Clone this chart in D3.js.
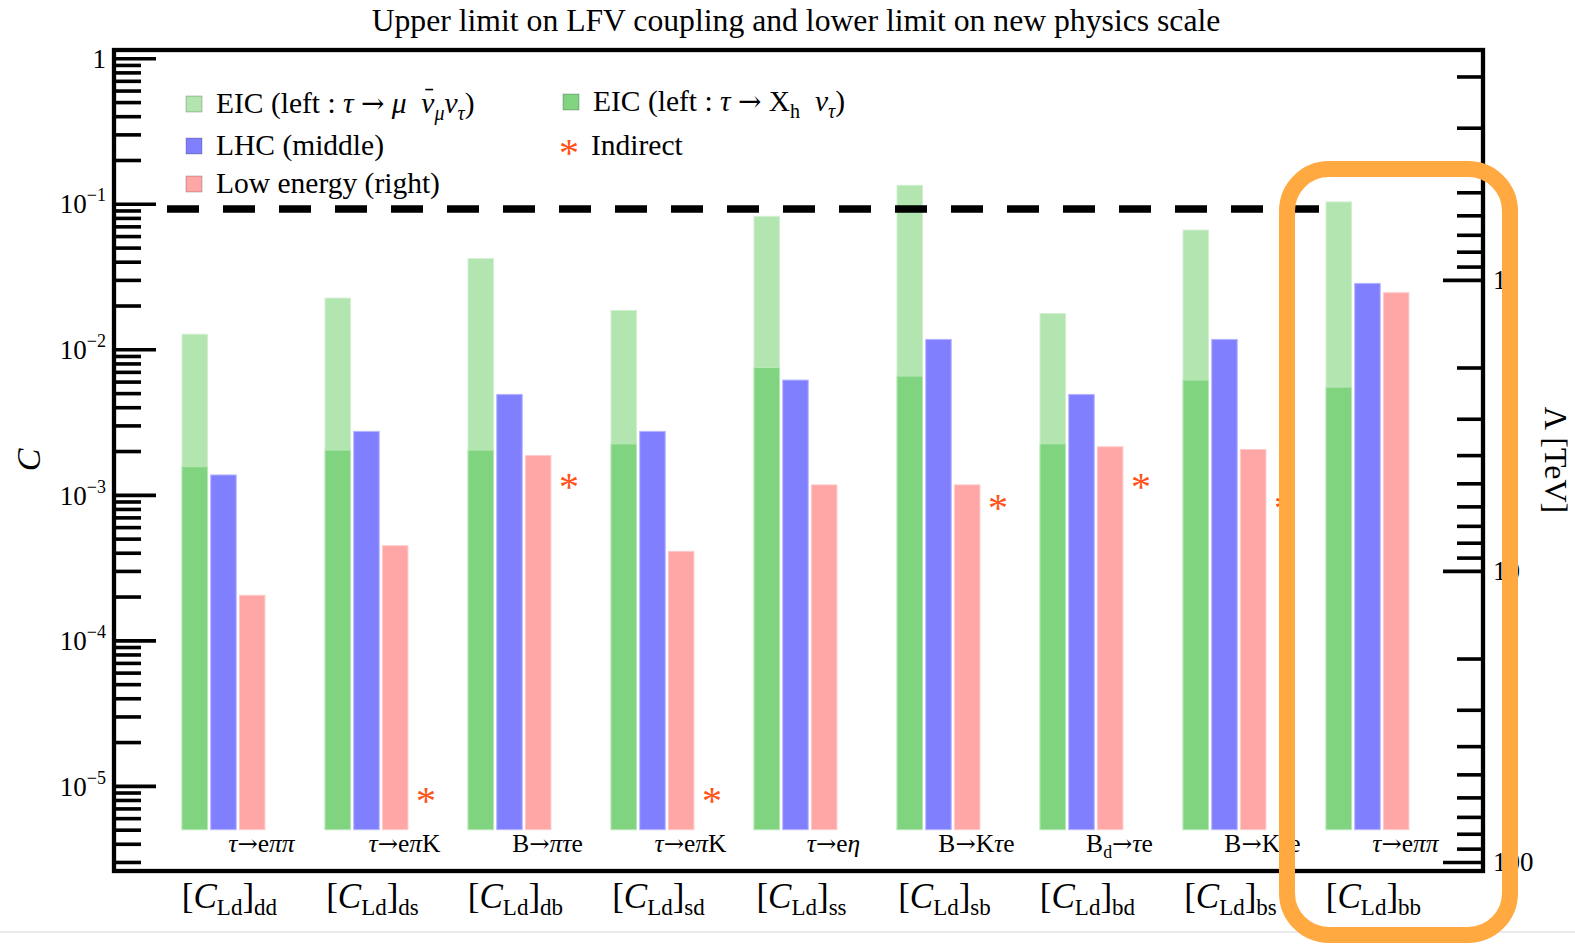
<!DOCTYPE html>
<html>
<head>
<meta charset="utf-8">
<script src="https://cdn.jsdelivr.net/npm/d3@7"></script>
<style>
  body { margin: 0; background: #fff; }
  svg { display: block; }
  text { font-family: "Liberation Serif", "Times New Roman", serif; fill: #000; }
</style>
</head>
<body>
<svg id="chart" width="1575" height="951"></svg>
<script>
// ---- data -------------------------------------------------------------
const couplings   = ["dd", "ds", "db", "sd", "ss", "sb", "bd", "bs", "bb"];
const processes   = ["τ→eππ", "τ→eπK", "B→πτe", "τ→eπK", "τ→eη", "B→Kτe", "B_{d}→τe", "B→Kτe", "τ→eππ"];
// upper limits on C
const eicLeptonic = [1.27e-2, 2.25e-2, 4.2e-2, 1.85e-2, 8.2e-2, 1.34e-1, 1.76e-2, 6.6e-2, 1.03e-1];
const eicHadronic = [1.56e-3, 2.03e-3, 2.03e-3, 2.24e-3, 7.5e-3, 6.55e-3, 2.24e-3, 6.15e-3, 5.5e-3];
const lhc         = [1.37e-3, 2.73e-3, 4.9e-3, 2.73e-3, 6.15e-3, 1.17e-2, 4.9e-3, 1.17e-2, 2.84e-2];
const lowEnergy   = [2.04e-4, 4.47e-4, 1.86e-3, 4.09e-4, 1.17e-3, 1.17e-3, 2.14e-3, 2.05e-3, 2.45e-2];
const indirect    = [null, 8.8e-6, 1.26e-3, 8.8e-6, null, 9.0e-4, 1.26e-3, 9.0e-4, null];
const leftMajorTicks  = [1e-5, 1e-4, 1e-3, 1e-2, 1e-1, 1];
const rightMajorTicks = [1, 10, 100];
const rightMinorTicks = [0.2, 0.3, 0.5, 0.6, 0.7, 0.8, 0.9, 2, 3, 4, 5, 6, 7, 8, 9, 20, 30, 40, 50, 60, 70, 80, 90];
const referenceC = 0.092;     // dashed reference level
const barBaseC   = 5e-6;      // bars start here
const lambdaNorm = 0.03;      // C = lambdaNorm / Λ²  (Λ in TeV)
const cDomain    = [2.6e-6, 1.14];

// ---- layout -----------------------------------------------------------
const W = 1575, H = 951;
const frame = { left: 114, right: 1483, top: 50, bottom: 871 };
const colors = {
  eicLeptonic: "#b3e5b0",
  eicHadronic: "#80d480",
  lhc: "#8080ff",
  low: "#ffa6a6",
  star: "#ff5217",
  box: "#ffa940"
};
const FONT = 29.5;

const svg = d3.select("#chart");

const y = d3.scaleLog().domain(cDomain).range([frame.bottom, frame.top]);
const lam = c => Math.sqrt(lambdaNorm / c);
const yL = d3.scaleLog().domain([lam(cDomain[0]), lam(cDomain[1])]).range([frame.bottom, frame.top]);

const x = d3.scaleBand().domain(couplings)
  .range([182, 182 + 143 * (couplings.length - 0.42)])
  .paddingInner(0.42).paddingOuter(0);
const xs = d3.scaleBand().domain(["eic", "lhc", "low"])
  .range([0, x.bandwidth()]).paddingInner(0.11);

// rich text helper: "_{...}" makes a subscript, Greek letters are italic,
// a combining macron (U+0304) is drawn as a bar over the preceding letter
function rich(sel, src, size, subScale = 0.68, subDrop = 0.26, arrowScale = 1) {
  const segs = [];
  let i = 0;
  while (i < src.length) {
    let sub = false, chunk;
    if (src[i] === "_" && src[i + 1] === "{") {
      const j = src.indexOf("}", i);
      chunk = src.slice(i + 2, j); sub = true; i = j + 1;
    } else {
      let j = i;
      while (j < src.length && !(src[j] === "_" && src[j + 1] === "{")) j++;
      chunk = src.slice(i, j); i = j;
    }
    (chunk.match(/→|[\u0370-\u03FF]\u0304?|[^\u0370-\u03FF→]+/g) || []).forEach(t =>
      segs.push({
        t: t.replace("\u0304", ""), sub,
        it: /[\u0370-\u03FF]/.test(t[0]) && t[0] !== "Λ",
        arrow: t === "→",
        bar: t.includes("\u0304")
      }));
  }
  let shift = 0;
  const bars = [];
  segs.forEach(s => {
    const ts = sel.append("tspan").text(s.t);
    if (s.it) ts.attr("font-style", "italic");
    if (s.arrow) ts.attr("font-family", "DejaVu Serif").attr("font-size", size * arrowScale);
    if (s.sub) ts.attr("font-size", size * subScale);
    const want = s.sub ? size * subDrop : 0;
    if (want !== shift) ts.attr("dy", want - shift);
    shift = want;
    if (s.bar) bars.push(ts.node());
  });
  // overbars
  const parent = d3.select(sel.node().parentNode);
  bars.forEach(node => {
    const b = node.getExtentOfChar(0);
    parent.append("line")
      .attr("x1", b.x + b.width * 0.3).attr("x2", b.x + b.width * 0.9)
      .attr("y1", b.y + b.height * 0.08).attr("y2", b.y + b.height * 0.08)
      .attr("stroke", "#000").attr("stroke-width", 1.6);
  });
  return sel;
}

// ---- title ------------------------------------------------------------
svg.append("text").attr("x", 796).attr("y", 31).attr("text-anchor", "middle")
  .attr("font-size", 31.7).text("Upper limit on LFV coupling and lower limit on new physics scale");

// faint rule along the bottom
svg.append("line").attr("x1", 0).attr("x2", W).attr("y1", 932).attr("y2", 932)
  .attr("stroke", "#e4e4e4").attr("stroke-width", 1.5);

// ---- bars -------------------------------------------------------------
const rows = couplings.map((c, i) => ({
  c, i, eicL: eicLeptonic[i], eicH: eicHadronic[i], lhc: lhc[i], low: lowEnergy[i], ind: indirect[i]
}));
const gBars = svg.append("g");
const group = gBars.selectAll("g.grp").data(rows).join("g").attr("class", "grp")
  .attr("transform", d => `translate(${x(d.c)},0)`);

function bar(sel, key, val, fill, edge) {
  sel.append("rect")
    .attr("x", d => xs(key)).attr("width", xs.bandwidth())
    .attr("y", d => y(val(d))).attr("height", d => y(barBaseC) - y(val(d)))
    .attr("fill", fill).attr("stroke", edge).attr("stroke-width", 1);
}
bar(group, "eic", d => d.eicL, colors.eicLeptonic, "#d2efd0");
bar(group, "eic", d => d.eicH, colors.eicHadronic, "#b8e8b7");
bar(group, "lhc", d => d.lhc, colors.lhc, "#b6b6ff");
bar(group, "low", d => d.low, colors.low, "#ffcaca");

// process labels under each group
group.append("text").attr("x", x.bandwidth() / 2 + 38).attr("y", 852)
  .attr("text-anchor", "middle").attr("font-size", 25.5)
  .each(function (d) { rich(d3.select(this), processes[d.i], 25.5, 0.7, 0.22, 0.95); });

// indirect-bound markers
function star(sel, cx, cy, size) {
  sel.append("text").attr("x", cx).attr("y", cy + size * 0.5)
    .attr("text-anchor", "middle").attr("font-size", size)
    .style("fill", colors.star).text("*");
}
rows.filter(d => d.ind != null).forEach(d => {
  star(gBars, x(d.c) + 101, y(d.ind), 40);
});

// reference level
svg.append("line")
  .attr("x1", x(couplings[0]) - 15).attr("x2", x(couplings[couplings.length - 1]) - 7)
  .attr("y1", y(referenceC)).attr("y2", y(referenceC))
  .attr("stroke", "#000").attr("stroke-width", 7.5).attr("stroke-dasharray", "32,24");

// ---- axes -------------------------------------------------------------
const leftMinor = [];
for (let e = -6; e <= 0; e++) for (let m = 2; m <= 9; m++) {
  const v = m * Math.pow(10, e);
  if (v > cDomain[0] && v < cDomain[1]) leftMinor.push(v);
}
const axStyle = g => {
  g.select(".domain").remove();
  g.selectAll(".tick line").attr("stroke", "#000").attr("stroke-width", 3.6);
};

svg.append("g").attr("transform", `translate(${frame.left},0)`)
  .call(d3.axisLeft(y).tickValues(leftMinor).tickSize(-27).tickFormat(""))
  .call(axStyle);
const leftAx = svg.append("g").attr("transform", `translate(${frame.left},0)`)
  .call(d3.axisLeft(y).tickValues(leftMajorTicks).tickSize(-42).tickPadding(8).tickFormat(""))
  .call(axStyle);
leftAx.selectAll(".tick text").each(function (v) {
  const t = d3.select(this).attr("font-size", 27).attr("font-family", null).attr("fill", null)
    .attr("dy", "0.34em").attr("x", -8);
  t.text(null);
  const e = Math.round(Math.log10(v));
  if (e === 0) { t.append("tspan").text("1"); return; }
  t.append("tspan").text("10");
  t.append("tspan").attr("font-size", 18).attr("dy", -12).text("−" + Math.abs(e));
});

svg.append("g").attr("transform", `translate(${frame.right},0)`)
  .call(d3.axisRight(yL).tickValues(rightMinorTicks).tickSize(-26).tickFormat(""))
  .call(axStyle);
const rightAx = svg.append("g").attr("transform", `translate(${frame.right},0)`)
  .call(d3.axisRight(yL).tickValues(rightMajorTicks).tickSize(-40).tickPadding(10).tickFormat(d3.format("d")))
  .call(axStyle);
rightAx.selectAll(".tick text").attr("font-size", 27).attr("font-family", null).attr("fill", null)
  .attr("x", 10);

// frame
svg.append("rect").attr("x", frame.left).attr("y", frame.top)
  .attr("width", frame.right - frame.left).attr("height", frame.bottom - frame.top)
  .attr("fill", "none").attr("stroke", "#000").attr("stroke-width", 4.3);

// axis titles
svg.append("text").attr("transform", "translate(40,460) rotate(-90)")
  .attr("text-anchor", "middle").attr("font-size", 34).attr("font-style", "italic").text("C");
svg.append("text").attr("transform", "translate(1545,460) rotate(90)")
  .attr("text-anchor", "middle").attr("font-size", 32).text("Λ [TeV]");

// coupling labels
svg.selectAll("text.cat").data(couplings).join("text").attr("class", "cat")
  .attr("x", c => x(c) + x.bandwidth() / 2 + 6).attr("y", 908)
  .attr("text-anchor", "middle").attr("font-size", 35)
  .each(function (c) {
    const t = d3.select(this);
    t.append("tspan").text("[");
    t.append("tspan").attr("font-style", "italic").text("C");
    t.append("tspan").attr("font-size", 23).attr("dy", 7).text("Ld");
    t.append("tspan").attr("dy", -7).text("]");
    t.append("tspan").attr("font-size", 23).attr("dy", 7).text(c);
  });

// ---- legend -----------------------------------------------------------
const legendItems = [
  { label: "EIC (left : τ → μ\u2002ν\u0304_{μ}ν_{τ})", fill: colors.eicLeptonic, cx: 194, cy: 104 },
  { label: "LHC (middle)", fill: colors.lhc, cx: 194, cy: 146 },
  { label: "Low energy (right)", fill: colors.low, cx: 194, cy: 184 },
  { label: "EIC (left : τ → X_{h}\u2002ν_{τ})", fill: colors.eicHadronic, cx: 571, cy: 102 },
  { label: "Indirect", star: true, cx: 569, cy: 146 }
];
const leg = svg.append("g");
legendItems.forEach(it => {
  if (it.star) {
    star(leg, it.cx, it.cy, 40);
  } else {
    leg.append("rect").attr("x", it.cx - 8).attr("y", it.cy - 8).attr("width", 16).attr("height", 16)
      .attr("fill", it.fill).attr("stroke", "rgba(0,0,0,0.22)").attr("stroke-width", 1);
  }
  const t = leg.append("text").attr("x", it.cx + 22).attr("y", it.cy + 9).attr("font-size", FONT);
  rich(t, it.label, FONT, 0.68, 0.24, 0.95);
});

// highlight box around the last group
svg.append("rect").attr("x", 1287).attr("y", 169).attr("width", 223).attr("height", 766)
  .attr("rx", 42).attr("ry", 42)
  .attr("fill", "none").attr("stroke", colors.box).attr("stroke-width", 16);
</script>
</body>
</html>
